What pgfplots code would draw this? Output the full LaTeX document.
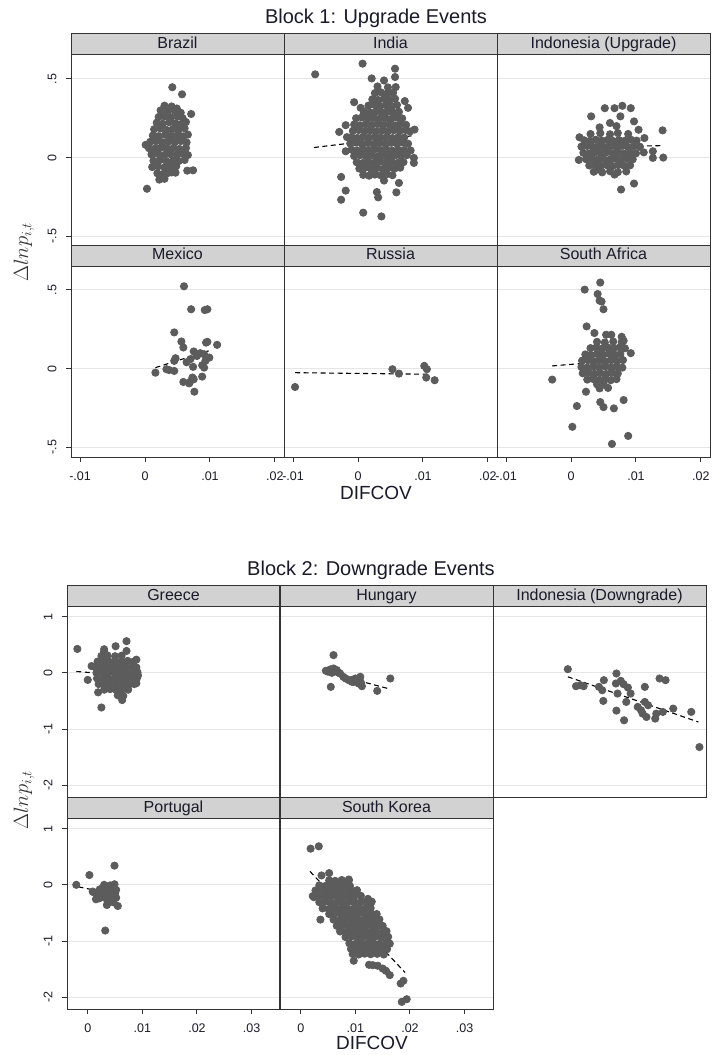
\documentclass[border=0pt]{standalone}
\usepackage{fontspec}
\setmainfont{Liberation Sans}
\usepackage{pgfplots}
\pgfplotsset{compat=1.18}
\definecolor{dotc}{HTML}{5C5C5C}
\definecolor{stripc}{HTML}{D2D2D2}
\definecolor{framec}{HTML}{333333}
\definecolor{gridc}{HTML}{E6E6E6}
\definecolor{tickc}{HTML}{1A1A2A}
\newcommand\titlefont{\fontsize{20}{24}\selectfont}
\newcommand\stripfont{\fontsize{16}{19}\selectfont}
\newcommand\tickfont{\fontsize{12.5}{15}\selectfont}
\newcommand\labfont{\fontsize{19}{22}\selectfont}
\pgfplotsset{
 panel/.style={
   scale only axis, width=213pt, anchor=south west,
   axis line style={draw=framec, line width=1pt},
   ymajorgrids, major grid style={draw=gridc, line width=1pt},
   tick align=outside, major tick length=5pt,
   tick style={draw=framec, line width=1pt},
   scaled x ticks=false, scaled y ticks=false,
   xticklabel style={font=\tickfont, text=tickc},
   yticklabel style={font=\tickfont, text=tickc, xshift=-6pt, rotate=90, anchor=south},
   xticklabel shift=6pt,
   /pgf/number format/assume math mode=true,
   clip=false,
 },
 b1/.style={panel, height=191pt, xmin=-0.0114, xmax=0.0214, ymin=-0.562, ymax=0.652,
   ytick={-0.5,0,0.5}, yticklabels={-.5,0,.5}, xtick={-0.01,0,0.01,0.02}, xticklabels={-.01,0,.01,.02}},
 b2/.style={panel, height=190.5pt, xmin=-0.0038, xmax=0.0352, ymin=-2.21, ymax=1.18,
   ytick={-2,-1,0,1}, yticklabels={-2,-1,0,1}, xtick={0,0.01,0.02,0.03}, xticklabels={0,.01,.02,.03}},
 leftp/.style={ytick pos=left},
 innerp/.style={yticklabels={}, ytick style={draw=none}},
 bottomp/.style={xtick pos=left},
 topp/.style={xtick=\empty},
 strip/.style={extra description/.code={
   \draw[fill=stripc, draw=framec, line width=1pt] (0,1) rectangle ([yshift=21pt]1,1);
   \node[font=\stripfont, text=tickc, anchor=base, inner sep=0pt] at ([yshift=6.5pt]0.5,1) {#1};}},
 dots/.style={only marks, color=dotc, mark=*, mark size=3.6pt, mark options={draw=dotc, fill=dotc, line width=0.9pt}},
 fit/.style={black, line width=1.1pt, dash pattern=on 5pt off 3.5pt, no marks},
}
\begin{document}
\begin{tikzpicture}
\path[use as bounding box] (0,0) rectangle (712pt,-1055pt);
% ---------------- Block 1 ----------------
\node[font=\titlefont, text=tickc] at (376pt,-18pt) {Block 1: Upgrade Events};
\node[font=\labfont, text=tickc] at (376pt,-493pt) {DIFCOV};
\node[rotate=90, text=framec] at (24pt,-252pt) {\fontsize{21}{24}\selectfont$\Delta lnp_{i,t}$};

\begin{axis}[b1, leftp, topp, strip=Brazil, at={(71pt,-246pt)}]
\addplot[dots] coordinates {
(0.0042,0.447)(0.0057,0.402)(0.0071,0.277)(0.0003,-0.198)(0.0001,0.081)(0.0074,-0.081)(0.0065,-0.083)(0.0047,-0.096)(0.0041,-0.094)
(0.0030,0.330)(0.0041,0.325)(0.0049,0.312)
(0.0024,0.300)(0.0035,0.292)(0.0046,0.296)(0.0055,0.285)
(0.0021,0.258)(0.0030,0.262)(0.0040,0.255)(0.0050,0.263)(0.0058,0.250)
(0.0018,0.222)(0.0027,0.215)(0.0037,0.225)(0.0047,0.218)(0.0056,0.212)(0.0063,0.226)
(0.0014,0.180)(0.0024,0.185)(0.0033,0.176)(0.0043,0.182)(0.0052,0.178)(0.0061,0.186)
(0.0012,0.140)(0.0021,0.136)(0.0031,0.145)(0.0040,0.138)(0.0050,0.142)(0.0059,0.135)(0.0066,0.146)
(0.0008,0.100)(0.0017,0.104)(0.0027,0.097)(0.0036,0.102)(0.0046,0.099)(0.0055,0.105)(0.0064,0.096)
(0.0006,0.060)(0.0015,0.057)(0.0025,0.064)(0.0034,0.058)(0.0044,0.062)(0.0053,0.055)(0.0063,0.061)
(0.0010,0.020)(0.0020,0.024)(0.0030,0.017)(0.0039,0.022)(0.0049,0.019)(0.0058,0.025)(0.0066,0.016)
(0.0013,-0.020)(0.0023,-0.016)(0.0033,-0.024)(0.0043,-0.018)(0.0052,-0.022)(0.0061,-0.015)
(0.0011,-0.060)(0.0020,-0.056)(0.0030,-0.063)(0.0039,-0.058)(0.0048,-0.055)
(0.0019,-0.100)(0.0028,-0.104)(0.0036,-0.097)
(0.0022,-0.140)(0.0030,-0.135)
};
\addplot[fit] coordinates {(0.0002,0.045)(0.0073,0.162)};
\end{axis}

\begin{axis}[b1, innerp, topp, strip=India, at={(284pt,-246pt)}]
\addplot[dots] coordinates {
(-0.0066,0.529)(0.0007,0.597)(0.0057,0.565)(0.0057,0.512)(0.0021,0.503)(0.0040,0.490)(0.0058,0.448)
(-0.0006,0.352)(0.0072,0.359)(0.0077,0.316)(-0.0019,0.206)(-0.0029,0.163)(-0.0017,0.130)(-0.0019,0.040)
(0.0087,0.178)(0.0081,0.045)(0.0086,-0.002)(0.0086,-0.034)(-0.0026,-0.123)(-0.0019,-0.210)(-0.0026,-0.268)
(0.0008,-0.350)(0.0036,-0.374)(0.0029,-0.219)(0.0031,-0.253)(0.0059,-0.221)(0.0063,-0.161)(0.0040,-0.146)
(0.0030,0.452)(0.0046,0.446)
(0.0026,0.410)(0.0035,0.415)(0.0045,0.408)(0.0054,0.412)
(0.0022,0.370)(0.0031,0.366)(0.0040,0.373)(0.0049,0.368)(0.0057,0.374)
(0.0004,0.316)(0.0009,0.280)
(0.0016,0.330)(0.0025,0.335)(0.0034,0.328)(0.0043,0.333)(0.0052,0.327)(0.0060,0.334)
(0.0010,0.290)(0.0019,0.286)(0.0028,0.293)(0.0037,0.288)(0.0046,0.292)(0.0055,0.285)(0.0063,0.291)
(-0.0003,0.250)(0.0006,0.255)(0.0015,0.248)(0.0024,0.253)(0.0033,0.247)(0.0042,0.252)(0.0051,0.246)(0.0060,0.254)(0.0068,0.249)
(-0.0006,0.210)(0.0003,0.205)(0.0012,0.212)(0.0021,0.207)(0.0030,0.213)(0.0039,0.206)(0.0048,0.211)(0.0057,0.204)(0.0065,0.212)(0.0074,0.208)
(-0.0008,0.170)(0.0001,0.175)(0.0010,0.168)(0.0019,0.173)(0.0028,0.166)(0.0037,0.172)(0.0046,0.167)(0.0055,0.174)(0.0064,0.169)(0.0073,0.175)(0.0080,0.166)
(-0.0010,0.130)(-0.0001,0.125)(0.0008,0.132)(0.0017,0.127)(0.0026,0.133)(0.0035,0.126)(0.0044,0.131)(0.0053,0.124)(0.0062,0.130)(0.0071,0.127)
(-0.0012,0.090)(-0.0003,0.095)(0.0006,0.088)(0.0015,0.093)(0.0024,0.086)(0.0033,0.092)(0.0042,0.087)(0.0051,0.094)(0.0060,0.089)(0.0069,0.095)(0.0077,0.088)
(-0.0010,0.050)(-0.0001,0.045)(0.0008,0.052)(0.0017,0.047)(0.0026,0.053)(0.0035,0.046)(0.0044,0.051)(0.0053,0.044)(0.0062,0.050)(0.0071,0.047)
(-0.0006,0.010)(0.0003,0.015)(0.0012,0.008)(0.0021,0.013)(0.0030,0.006)(0.0039,0.012)(0.0048,0.007)(0.0057,0.014)(0.0066,0.009)(0.0075,0.015)
(-0.0002,-0.030)(0.0007,-0.035)(0.0016,-0.028)(0.0025,-0.033)(0.0034,-0.026)(0.0043,-0.032)(0.0052,-0.027)(0.0061,-0.034)(0.0070,-0.029)
(0.0002,-0.070)(0.0011,-0.065)(0.0020,-0.072)(0.0029,-0.067)(0.0038,-0.073)(0.0047,-0.066)(0.0056,-0.071)(0.0065,-0.064)
(0.0008,-0.110)(0.0017,-0.115)(0.0026,-0.108)(0.0035,-0.113)(0.0044,-0.106)(0.0053,-0.112)
};
\addplot[fit] coordinates {(-0.0068,0.064)(0.0086,0.140)};
\end{axis}

\begin{axis}[b1, innerp, topp, strip={Indonesia (Upgrade)}, at={(497pt,-246pt)}]
\addplot[dots] coordinates {
(0.0013,0.129)(0.0012,-0.015)(0.0031,0.262)(0.0052,0.314)(0.0067,0.314)(0.0079,0.329)(0.0092,0.314)
(0.0044,0.192)(0.0076,0.262)(0.0097,0.230)(0.0104,0.177)(0.0141,0.173)(0.0142,0.000)(0.0113,0.124)
(0.0126,0.040)(0.0126,-0.002)(0.0097,-0.165)(0.0077,-0.203)(0.0041,-0.076)(0.0067,-0.108)(0.0060,0.220)(0.0070,0.200)
(0.0030,0.150)(0.0045,0.155)(0.0060,0.148)(0.0072,0.156)(0.0088,0.150)
(0.0020,0.110)(0.0029,0.106)(0.0038,0.113)(0.0047,0.108)(0.0056,0.112)(0.0065,0.105)(0.0074,0.111)(0.0083,0.107)(0.0092,0.114)(0.0101,0.108)
(0.0016,0.070)(0.0025,0.074)(0.0034,0.067)(0.0043,0.072)(0.0052,0.066)(0.0061,0.073)(0.0070,0.068)(0.0079,0.074)(0.0088,0.067)(0.0097,0.072)(0.0106,0.069)
(0.0019,0.030)(0.0028,0.026)(0.0037,0.033)(0.0046,0.028)(0.0055,0.034)(0.0064,0.027)(0.0073,0.032)(0.0082,0.025)(0.0091,0.031)(0.0100,0.027)(0.0112,0.033)
(0.0023,-0.010)(0.0032,-0.006)(0.0041,-0.013)(0.0050,-0.008)(0.0059,-0.014)(0.0068,-0.007)(0.0077,-0.012)(0.0086,-0.006)(0.0095,-0.011)
(0.0028,-0.050)(0.0037,-0.046)(0.0046,-0.053)(0.0055,-0.048)(0.0064,-0.054)(0.0073,-0.047)(0.0082,-0.052)(0.0091,-0.049)
(0.0035,-0.090)(0.0048,-0.094)(0.0060,-0.087)(0.0072,-0.093)(0.0085,-0.088)
};
\addplot[fit] coordinates {(0.0012,0.065)(0.0141,0.076)};
\end{axis}

\begin{axis}[b1, leftp, bottomp, strip=Mexico, at={(71pt,-457pt)}]
\addplot[dots] coordinates {
(0.0060,0.523)(0.0071,0.377)(0.0092,0.372)(0.0096,0.377)(0.0045,0.230)(0.0056,0.172)(0.0059,0.134)
(0.0096,0.170)(0.0094,0.165)(0.0111,0.151)(0.0075,0.109)(0.0085,0.098)(0.0091,0.091)(0.0099,0.070)
(0.0093,0.049)(0.0088,0.021)(0.0091,0.006)(0.0074,0.011)(0.0070,0.060)(0.0047,0.066)(0.0045,0.049)
(0.0033,-0.004)(0.0037,-0.009)(0.0045,-0.015)(0.0016,-0.026)(0.0059,-0.085)(0.0069,-0.085)(0.0073,-0.057)
(0.0075,-0.068)(0.0088,-0.051)(0.0068,-0.094)(0.0076,-0.147)(0.0080,0.080)(0.0064,0.040)
};
\addplot[fit] coordinates {(0.0016,0.006)(0.0098,0.113)};
\end{axis}

\begin{axis}[b1, innerp, bottomp, strip=Russia, at={(284pt,-457pt)}]
\addplot[dots] coordinates {
(-0.0097,-0.117)(0.0053,-0.004)(0.0063,-0.032)(0.0102,0.017)(0.0106,-0.004)(0.0105,-0.057)(0.0118,-0.074)
};
\addplot[fit] coordinates {(-0.0097,-0.026)(0.0108,-0.036)};
\end{axis}

\begin{axis}[b1, innerp, bottomp, strip={South Africa}, at={(497pt,-457pt)}]
\addplot[dots] coordinates {
(0.0045,0.547)(0.0021,0.502)(0.0041,0.474)(0.0044,0.432)(0.0047,0.426)(0.0050,0.377)(0.0024,0.268)
(0.0036,0.226)(0.0054,0.215)(0.0062,0.215)(0.0078,0.202)(0.0081,0.177)(0.0092,0.098)(-0.0029,-0.070)
(0.0023,-0.147)(0.0009,-0.238)(0.0045,-0.213)(0.0050,-0.245)(0.0066,-0.253)(0.0081,-0.200)(0.0002,-0.370)
(0.0063,-0.479)(0.0088,-0.428)(0.0057,-0.123)(0.0044,-0.126)
(0.0040,0.170)(0.0052,0.166)(0.0065,0.172)(0.0078,0.168)
(0.0030,0.130)(0.0039,0.134)(0.0048,0.127)(0.0057,0.133)(0.0066,0.128)(0.0075,0.135)(0.0083,0.129)
(0.0022,0.090)(0.0031,0.086)(0.0040,0.093)(0.0049,0.088)(0.0058,0.094)(0.0067,0.087)(0.0076,0.092)
(0.0017,0.050)(0.0026,0.054)(0.0035,0.047)(0.0044,0.052)(0.0053,0.046)(0.0062,0.053)(0.0071,0.048)(0.0080,0.054)
(0.0016,0.010)(0.0025,0.006)(0.0034,0.013)(0.0043,0.008)(0.0052,0.014)(0.0061,0.007)(0.0070,0.012)(0.0079,0.006)
(0.0018,-0.030)(0.0027,-0.026)(0.0036,-0.033)(0.0045,-0.028)(0.0054,-0.034)(0.0063,-0.027)(0.0072,-0.032)
(0.0025,-0.070)(0.0034,-0.066)(0.0043,-0.073)(0.0052,-0.068)(0.0061,-0.074)(0.0070,-0.067)
(0.0040,-0.100)(0.0050,-0.098)
};
\addplot[fit] coordinates {(-0.0029,0.017)(0.0083,0.055)};
\end{axis}

% ---------------- Block 2 ----------------
\node[font=\titlefont, text=tickc] at (371pt,-570pt) {Block 2: Downgrade Events};
\node[font=\labfont, text=tickc] at (372pt,-1043pt) {DIFCOV};
\node[rotate=90, text=framec] at (24pt,-800pt) {\fontsize{21}{24}\selectfont$\Delta lnp_{i,t}$};

\begin{axis}[b2, leftp, topp, strip=Greece, at={(67pt,-797pt)}]
\addplot[dots] coordinates {
(-0.0019,0.425)(0.0071,0.563)(0.0051,0.473)(0.0071,0.389)(0.0030,0.419)(0.0007,0.120)(0.0000,-0.126)
(0.0025,-0.617)(0.0063,-0.485)(0.0019,-0.347)(0.0089,0.234)(0.0092,-0.048)(0.0089,-0.186)
(0.0030,0.380)
(0.0025,0.300)(0.0036,0.310)(0.0050,0.295)(0.0062,0.305)
(0.0018,0.200)(0.0029,0.210)(0.0040,0.195)(0.0051,0.205)(0.0062,0.198)(0.0073,0.212)(0.0084,0.200)
(0.0014,0.100)(0.0025,0.092)(0.0036,0.108)(0.0047,0.095)(0.0058,0.105)(0.0069,0.092)(0.0080,0.103)(0.0089,0.096)
(0.0016,0.000)(0.0027,0.010)(0.0038,-0.005)(0.0049,0.008)(0.0060,-0.008)(0.0071,0.005)(0.0082,-0.004)(0.0091,0.010)
(0.0017,-0.100)(0.0028,-0.092)(0.0039,-0.108)(0.0050,-0.095)(0.0061,-0.105)(0.0072,-0.093)(0.0083,-0.104)(0.0090,-0.097)
(0.0020,-0.200)(0.0031,-0.210)(0.0042,-0.195)(0.0053,-0.205)(0.0064,-0.198)(0.0075,-0.210)(0.0085,-0.200)
(0.0030,-0.300)(0.0041,-0.290)(0.0052,-0.305)(0.0063,-0.295)(0.0074,-0.300)
(0.0055,-0.400)(0.0065,-0.410)
};
\addplot[fit] coordinates {(-0.0021,0.024)(0.0089,-0.060)};
\end{axis}

\begin{axis}[b2, innerp, topp, strip=Hungary, at={(280pt,-797pt)}]
\addplot[dots] coordinates {
(0.0060,0.315)(0.0055,-0.250)(0.0046,0.036)(0.0054,0.060)(0.0060,0.077)(0.0066,0.048)(0.0072,-0.012)
(0.0078,-0.071)(0.0088,-0.131)(0.0097,-0.161)(0.0106,-0.143)(0.0094,-0.161)(0.0100,-0.101)(0.0109,-0.071)
(0.0106,-0.190)(0.0112,-0.238)(0.0140,-0.321)(0.0164,-0.101)
(0.0050,0.020)(0.0064,0.030)(0.0070,0.000)(0.0082,-0.100)(0.0092,-0.130)(0.0110,-0.170)(0.0057,0.000)
};
\addplot[fit] coordinates {(0.0044,0.018)(0.0160,-0.280)};
\end{axis}

\begin{axis}[b2, innerp, topp, strip={Indonesia (Downgrade)}, at={(493pt,-797pt)}]
\addplot[dots] coordinates {
(0.0099,0.065)(0.0114,-0.238)(0.0122,-0.220)(0.0128,-0.238)(0.0156,-0.250)(0.0165,-0.131)(0.0162,-0.310)
(0.0164,-0.500)(0.0188,-0.012)(0.0187,-0.190)(0.0196,-0.143)(0.0201,-0.202)(0.0190,-0.369)(0.0209,-0.262)
(0.0214,-0.369)(0.0206,-0.518)(0.0188,-0.673)(0.0202,-0.845)(0.0240,-0.250)(0.0267,-0.101)(0.0278,-0.131)
(0.0227,-0.607)(0.0236,-0.726)(0.0243,-0.786)(0.0233,-0.667)(0.0246,-0.577)(0.0240,-0.518)(0.0261,-0.726)
(0.0259,-0.815)(0.0273,-0.696)(0.0292,-0.637)(0.0325,-0.696)(0.0340,-1.321)
};
\addplot[fit] coordinates {(0.0099,-0.071)(0.0338,-0.875)};
\end{axis}

\begin{axis}[b2, leftp, bottomp, strip=Portugal, at={(67pt,-1009pt)}]
\addplot[dots] coordinates {
(-0.0021,0.000)(0.0003,0.174)(0.0049,0.341)(0.0032,-0.814)(0.0055,-0.377)(0.0035,-0.359)(0.0015,-0.257)(0.0012,-0.138)
(0.0030,0.000)(0.0041,-0.010)(0.0049,0.010)
(0.0022,-0.080)(0.0033,-0.085)(0.0044,-0.075)(0.0052,-0.090)
(0.0018,-0.160)(0.0028,-0.150)(0.0039,-0.165)(0.0050,-0.155)
(0.0021,-0.240)(0.0032,-0.235)(0.0043,-0.245)(0.0052,-0.230)
(0.0038,-0.320)(0.0047,-0.310)(0.0009,-0.120)
};
\addplot[fit] coordinates {(-0.0017,-0.036)(0.0055,-0.180)};
\end{axis}

\begin{axis}[b2, innerp, bottomp, strip={South Korea}, at={(280pt,-1009pt)}]
\addplot[dots] coordinates {
(0.0018,0.643)(0.0033,0.685)(0.0038,0.167)(0.0052,0.208)(0.0088,0.095)(0.0036,-0.619)(0.0024,-0.220)
(0.0123,-0.250)(0.0126,-0.381)(0.0097,-1.351)(0.0125,-1.423)(0.0141,-1.440)(0.0156,-1.530)(0.0163,-1.607)
(0.0188,-1.708)(0.0183,-1.756)(0.0185,-2.083)(0.0194,-2.036)(0.0160,-1.024)(0.0150,-1.490)(0.0132,-1.430)
(0.0052,0.080)(0.0063,0.070)(0.0075,0.085)(0.0088,0.075)
(0.0034,-0.010)(0.0045,-0.020)(0.0056,-0.005)(0.0067,-0.015)(0.0078,-0.008)(0.0090,-0.018)
(0.0027,-0.100)(0.0038,-0.092)(0.0049,-0.108)(0.0060,-0.095)(0.0071,-0.105)(0.0082,-0.093)(0.0093,-0.104)(0.0103,-0.096)
(0.0022,-0.200)(0.0032,-0.210)(0.0043,-0.195)(0.0054,-0.205)(0.0065,-0.198)(0.0076,-0.210)(0.0087,-0.200)(0.0098,-0.208)(0.0110,-0.196)
(0.0034,-0.310)(0.0045,-0.300)(0.0056,-0.315)(0.0067,-0.305)(0.0078,-0.312)(0.0089,-0.300)(0.0100,-0.315)(0.0111,-0.305)(0.0122,-0.312)(0.0130,-0.300)
(0.0040,-0.420)(0.0051,-0.430)(0.0062,-0.415)(0.0073,-0.425)(0.0084,-0.418)(0.0095,-0.430)(0.0106,-0.420)(0.0117,-0.428)(0.0128,-0.415)
(0.0052,-0.520)(0.0063,-0.510)(0.0074,-0.525)(0.0085,-0.515)(0.0096,-0.522)(0.0107,-0.510)(0.0118,-0.525)(0.0129,-0.515)(0.0139,-0.520)
(0.0060,-0.620)(0.0071,-0.630)(0.0082,-0.615)(0.0093,-0.625)(0.0104,-0.618)(0.0115,-0.630)(0.0126,-0.620)(0.0137,-0.628)(0.0144,-0.615)
(0.0066,-0.730)(0.0077,-0.720)(0.0088,-0.735)(0.0099,-0.725)(0.0110,-0.732)(0.0121,-0.720)(0.0132,-0.735)(0.0143,-0.725)(0.0150,-0.730)
(0.0072,-0.830)(0.0083,-0.840)(0.0094,-0.825)(0.0105,-0.835)(0.0116,-0.828)(0.0127,-0.840)(0.0138,-0.830)(0.0150,-0.838)(0.0157,-0.825)
(0.0082,-0.930)(0.0093,-0.920)(0.0104,-0.935)(0.0115,-0.925)(0.0126,-0.932)(0.0137,-0.920)(0.0148,-0.935)(0.0160,-0.925)
(0.0089,-1.040)(0.0100,-1.050)(0.0111,-1.035)(0.0122,-1.045)(0.0133,-1.038)(0.0144,-1.050)(0.0156,-1.040)(0.0163,-1.048)
(0.0092,-1.140)(0.0103,-1.130)(0.0114,-1.145)(0.0125,-1.135)(0.0136,-1.142)(0.0147,-1.130)(0.0158,-1.145)
(0.0095,-1.230)(0.0106,-1.240)(0.0117,-1.225)(0.0128,-1.235)(0.0140,-1.228)(0.0152,-1.240)
};
\addplot[fit] coordinates {(0.0017,0.238)(0.0191,-1.560)};
\end{axis}
\end{tikzpicture}
\end{document}
